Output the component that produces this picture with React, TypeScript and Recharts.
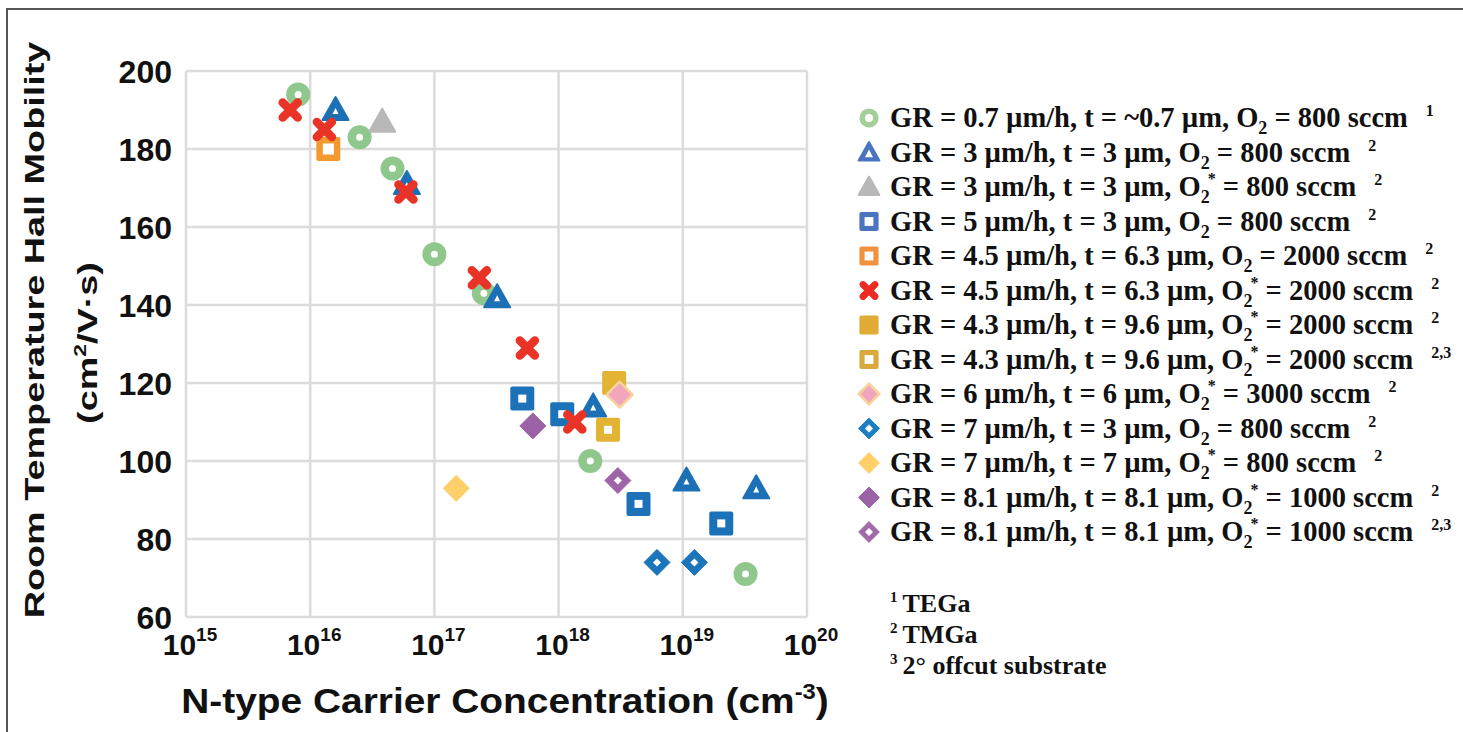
import { CartesianGrid, Label, Scatter, ScatterChart, XAxis, YAxis } from 'recharts';

const SANS = "'Liberation Sans', Arial, sans-serif";
const SERIF = "'Liberation Serif', 'Times New Roman', serif";

// carrier concentration (cm^-3) vs Hall mobility (cm^2/V.s), one array per growth condition
const gr07 = [
  { x: 8e15, y: 194 },
  { x: 2.5e16, y: 183 },
  { x: 4.6e16, y: 175 },
  { x: 1e17, y: 153 },
  { x: 2.5e17, y: 143 },
  { x: 1.8e18, y: 100 },
  { x: 3.2e19, y: 71 },
];
const gr3 = [
  { x: 1.6e16, y: 190 },
  { x: 6e16, y: 171 },
  { x: 3.2e17, y: 142 },
  { x: 1.9e18, y: 114 },
  { x: 1.07e19, y: 95 },
  { x: 3.9e19, y: 93 },
];
const gr3Star = [{ x: 3.8e16, y: 187 }];
const gr5 = [
  { x: 5.1e17, y: 116 },
  { x: 1.07e18, y: 112 },
  { x: 4.4e18, y: 89 },
  { x: 2.04e19, y: 84 },
];
const gr45 = [{ x: 1.4e16, y: 180 }];
const gr45Star = [
  { x: 6.9e15, y: 190 },
  { x: 1.3e16, y: 185 },
  { x: 5.9e16, y: 169 },
  { x: 2.3e17, y: 147 },
  { x: 5.6e17, y: 129 },
  { x: 1.35e18, y: 110 },
];
const gr43Star = [{ x: 2.8e18, y: 120 }];
const gr43Offcut = [{ x: 2.5e18, y: 108 }];
const gr6Star = [{ x: 3.1e18, y: 117 }];
const gr7 = [
  { x: 6.2e18, y: 74 },
  { x: 1.24e19, y: 74 },
];
const gr7Star = [{ x: 1.5e17, y: 93 }];
const gr81Star = [{ x: 6.2e17, y: 109 }];
const gr81Offcut = [{ x: 3.0e18, y: 95 }];

// legend text pieces
const legendGR = ['0.7', '3', '3', '5', '4.5', '4.5', '4.3', '4.3', '6', '7', '7', '8.1', '8.1'];
const legendT = ['~0.7', '3', '3', '3', '6.3', '6.3', '9.6', '9.6', '6', '3', '7', '8.1', '8.1'];
const legendStar = [false, false, true, false, false, true, true, true, true, false, true, true, true];
const legendO2 = ['800', '800', '800', '800', '2000', '2000', '2000', '2000', '3000', '800', '800', '1000', '1000'];
const legendNote = ['1', '2', '2', '2', '2', '2', '2', '2,3', '2', '2', '2', '2', '2,3'];
const footnotes = [
  { n: '1', text: 'TEGa' },
  { n: '2', text: 'TMGa' },
  { n: '3', text: '2° offcut substrate' },
];

const xTicks = [1e15, 1e16, 1e17, 1e18, 1e19, 1e20];
const yTicks = [60, 80, 100, 120, 140, 160, 180, 200];

type Kind = 'circleOpen' | 'triOpen' | 'tri' | 'squareOpen' | 'square' | 'cross' | 'diamond' | 'diamondOpen' | 'diamondPink';

const series: { data: { x: number; y: number }[]; kind: Kind; color: string; key: string }[] = [
  { data: gr07, kind: 'circleOpen', color: '#8fc78c', key: '#a4cf98' },
  { data: gr3, kind: 'triOpen', color: '#1c70b6', key: '#4a74bf' },
  { data: gr3Star, kind: 'tri', color: '#b8b8b8', key: '#b8b8b8' },
  { data: gr5, kind: 'squareOpen', color: '#1c72b8', key: '#4a74bf' },
  { data: gr45, kind: 'squareOpen', color: '#f39a2e', key: '#f0933e' },
  { data: gr45Star, kind: 'cross', color: '#e93326', key: '#ee2a24' },
  { data: gr43Star, kind: 'square', color: '#e3b334', key: '#e0ac36' },
  { data: gr43Offcut, kind: 'squareOpen', color: '#e3b334', key: '#d9a93c' },
  { data: gr6Star, kind: 'diamondPink', color: '#f2a6bd', key: '#f2a6bd' },
  { data: gr7, kind: 'diamondOpen', color: '#1b75bb', key: '#1b7fc4' },
  { data: gr7Star, kind: 'diamond', color: '#ffcf6a', key: '#ffd06a' },
  { data: gr81Star, kind: 'diamond', color: '#9b63a5', key: '#9b63a5' },
  { data: gr81Offcut, kind: 'diamondOpen', color: '#9e64a8', key: '#a06aa9' },
];

function Marker({ kind, color, cx, cy, s = 1, legend = false }: { kind: Kind; color: string; cx: number; cy: number; s?: number; legend?: boolean }) {
  const r = 12 * s;
  switch (kind) {
    case 'circleOpen':
      return (
        <g>
          <circle cx={cx} cy={cy} r={r} fill={color} />
          <circle cx={cx} cy={cy} r={(legend ? 5 : 3.5) * s} fill="#fff" />
        </g>
      );
    case 'triOpen':
    case 'tri': {
      const outer = `${cx},${cy - 13 * s} ${cx + 13 * s},${cy + 10 * s} ${cx - 13 * s},${cy + 10 * s}`;
      const h = kind === 'triOpen' ? (legend ? 5 : 3) * s : 0;
      return (
        <g>
          <polygon points={outer} fill={color} strokeLinejoin="round" stroke={color} strokeWidth={2} />
          {h > 0 && (
            <polygon points={`${cx},${cy + 1 - h} ${cx + h},${cy + 2 + h * 0.7} ${cx - h},${cy + 2 + h * 0.7}`} fill="#fff" />
          )}
        </g>
      );
    }
    case 'squareOpen':
    case 'square': {
      const base = color === '#f39a2e' || legend ? 5.5 : 4;
      const hole = kind === 'squareOpen' ? base * s : 0;
      return (
        <g>
          <rect x={cx - r} y={cy - r} width={2 * r} height={2 * r} rx={2} fill={color} />
          {hole > 0 && <rect x={cx - hole} y={cy - hole} width={2 * hole} height={2 * hole} fill="#fff" />}
        </g>
      );
    }
    case 'cross': {
      const d = 7.5 * s;
      return (
        <path
          d={`M${cx - d},${cy - d}L${cx + d},${cy + d}M${cx + d},${cy - d}L${cx - d},${cy + d}`}
          stroke={color}
          strokeWidth={8.5 * s}
          strokeLinecap="round"
        />
      );
    }
    case 'diamond':
    case 'diamondOpen':
    case 'diamondPink': {
      const a = 13 * s;
      const pts = `${cx},${cy - a} ${cx + a},${cy} ${cx},${cy + a} ${cx - a},${cy}`;
      const h = (legend ? 5 : 4) * s;
      return (
        <g>
          <polygon
            points={pts}
            fill={color}
            stroke={kind === 'diamondPink' ? '#f8d39a' : color}
            strokeWidth={kind === 'diamondPink' ? 2.5 : 1}
            strokeLinejoin="round"
          />
          {kind === 'diamondOpen' && (
            <polygon points={`${cx},${cy - h} ${cx + h},${cy} ${cx},${cy + h} ${cx - h},${cy}`} fill="#fff" />
          )}
        </g>
      );
    }
  }
  return null;
}

function YTick(props: any) {
  return (
    <text x={172} y={props.y + 11.5} textAnchor="end" fontFamily={SANS} fontWeight={700} fontSize={32} fill="#111">
      {props.payload.value}
    </text>
  );
}

function XTick(props: any) {
  const exp = Math.round(Math.log10(props.payload.value));
  return (
    <text x={props.x + 4} y={655} textAnchor="middle" fontFamily={SANS} fontWeight={700} fontSize={30} fill="#111">
      10
      <tspan fontSize={19} dy={-14}>
        {exp}
      </tspan>
    </text>
  );
}

function XTitle() {
  return (
    <text
      transform="translate(505,713) scale(1.08,1)"
      textAnchor="middle"
      fontFamily={SANS}
      fontWeight={700}
      fontSize={36}
      fill="#111"
    >
      N-type Carrier Concentration (cm
      <tspan fontSize={22} dy={-14}>
        -3
      </tspan>
      <tspan dy={14}>)</tspan>
    </text>
  );
}

function YTitle() {
  return (
    <g fontFamily={SANS} fontWeight={700} fontSize={28} fill="#111">
      <text transform="translate(44,330) rotate(-90) scale(1.35,1)" textAnchor="middle">
        Room Temperature Hall Mobility
      </text>
      <text transform="translate(97,343) rotate(-90) scale(1.35,1)" textAnchor="middle">
        (cm
        <tspan fontSize={17} dy={-11}>
          2
        </tspan>
        <tspan dy={11}>/V·s)</tspan>
      </text>
    </g>
  );
}

function LegendBlock() {
  const top = 118;
  const step = 34.5;
  return (
    <svg width={1463} height={732} style={{ position: 'absolute', left: 0, top: 0, pointerEvents: 'none' }}>
      {series.map((s, i) => {
        const cy = top + i * step;
        return (
          <g key={i}>
            <Marker kind={s.kind} color={s.key} cx={869} cy={cy} s={0.8} legend />
            <text x={890} y={cy + 9} fontFamily={SERIF} fontWeight={700} fontSize={28.5} fill="#111">
              {`GR = ${legendGR[i]} µm/h, t = ${legendT[i]} µm, O`}
              <tspan fontSize={18} dy={7}>
                2
              </tspan>
              {legendStar[i] ? (
                <tspan fontSize={16} dx={-2} dy={-19}>
                  *
                </tspan>
              ) : null}
              <tspan dy={legendStar[i] ? 12 : -7}>{` = ${legendO2[i]} sccm`}</tspan>
              <tspan fontSize={16} dx={18} dy={-11}>
                {legendNote[i]}
              </tspan>
            </text>
          </g>
        );
      })}
      {footnotes.map((f, i) => (
        <text key={f.n} x={890} y={612 + i * 31} fontFamily={SERIF} fontWeight={700} fontSize={26} fill="#111">
          <tspan fontSize={15} dy={-10}>
            {f.n}
          </tspan>
          <tspan dx={5} dy={10}>
            {f.text}
          </tspan>
        </text>
      ))}
    </svg>
  );
}

export default function App() {
  return (
    <div style={{ position: 'absolute', left: 0, top: 0, width: 1463, height: 732, background: '#fff', overflow: 'hidden' }}>
      <ScatterChart width={1463} height={732} margin={{ top: 71, right: 656, bottom: 55, left: 106 }}>
        <CartesianGrid stroke="#dedbdb" strokeWidth={2.5} />
        <XAxis
          dataKey="x"
          type="number"
          scale="log"
          domain={[1e15, 1e20]}
          ticks={xTicks}
          allowDataOverflow
          axisLine={false}
          tickLine={false}
          height={60}
          tick={<XTick />}
          interval={0}
        >
          <Label content={<XTitle />} />
        </XAxis>
        <YAxis
          dataKey="y"
          type="number"
          domain={[60, 200]}
          ticks={yTicks}
          allowDataOverflow
          axisLine={false}
          tickLine={false}
          width={80}
          tick={<YTick />}
          interval={0}
        >
          <Label content={<YTitle />} />
        </YAxis>
        {series.map((s, i) => (
          <Scatter
            key={i}
            data={s.data}
            isAnimationActive={false}
            shape={(p: any) => <Marker kind={s.kind} color={s.color} cx={p.cx} cy={p.cy} />}
          />
        ))}
      </ScatterChart>
      <LegendBlock />
      <div
        style={{
          position: 'absolute',
          left: 6,
          top: 8,
          width: 1463,
          height: 732,
          borderTop: '2px solid #555',
          borderLeft: '2px solid #555',
          pointerEvents: 'none',
        }}
      />
    </div>
  );
}
